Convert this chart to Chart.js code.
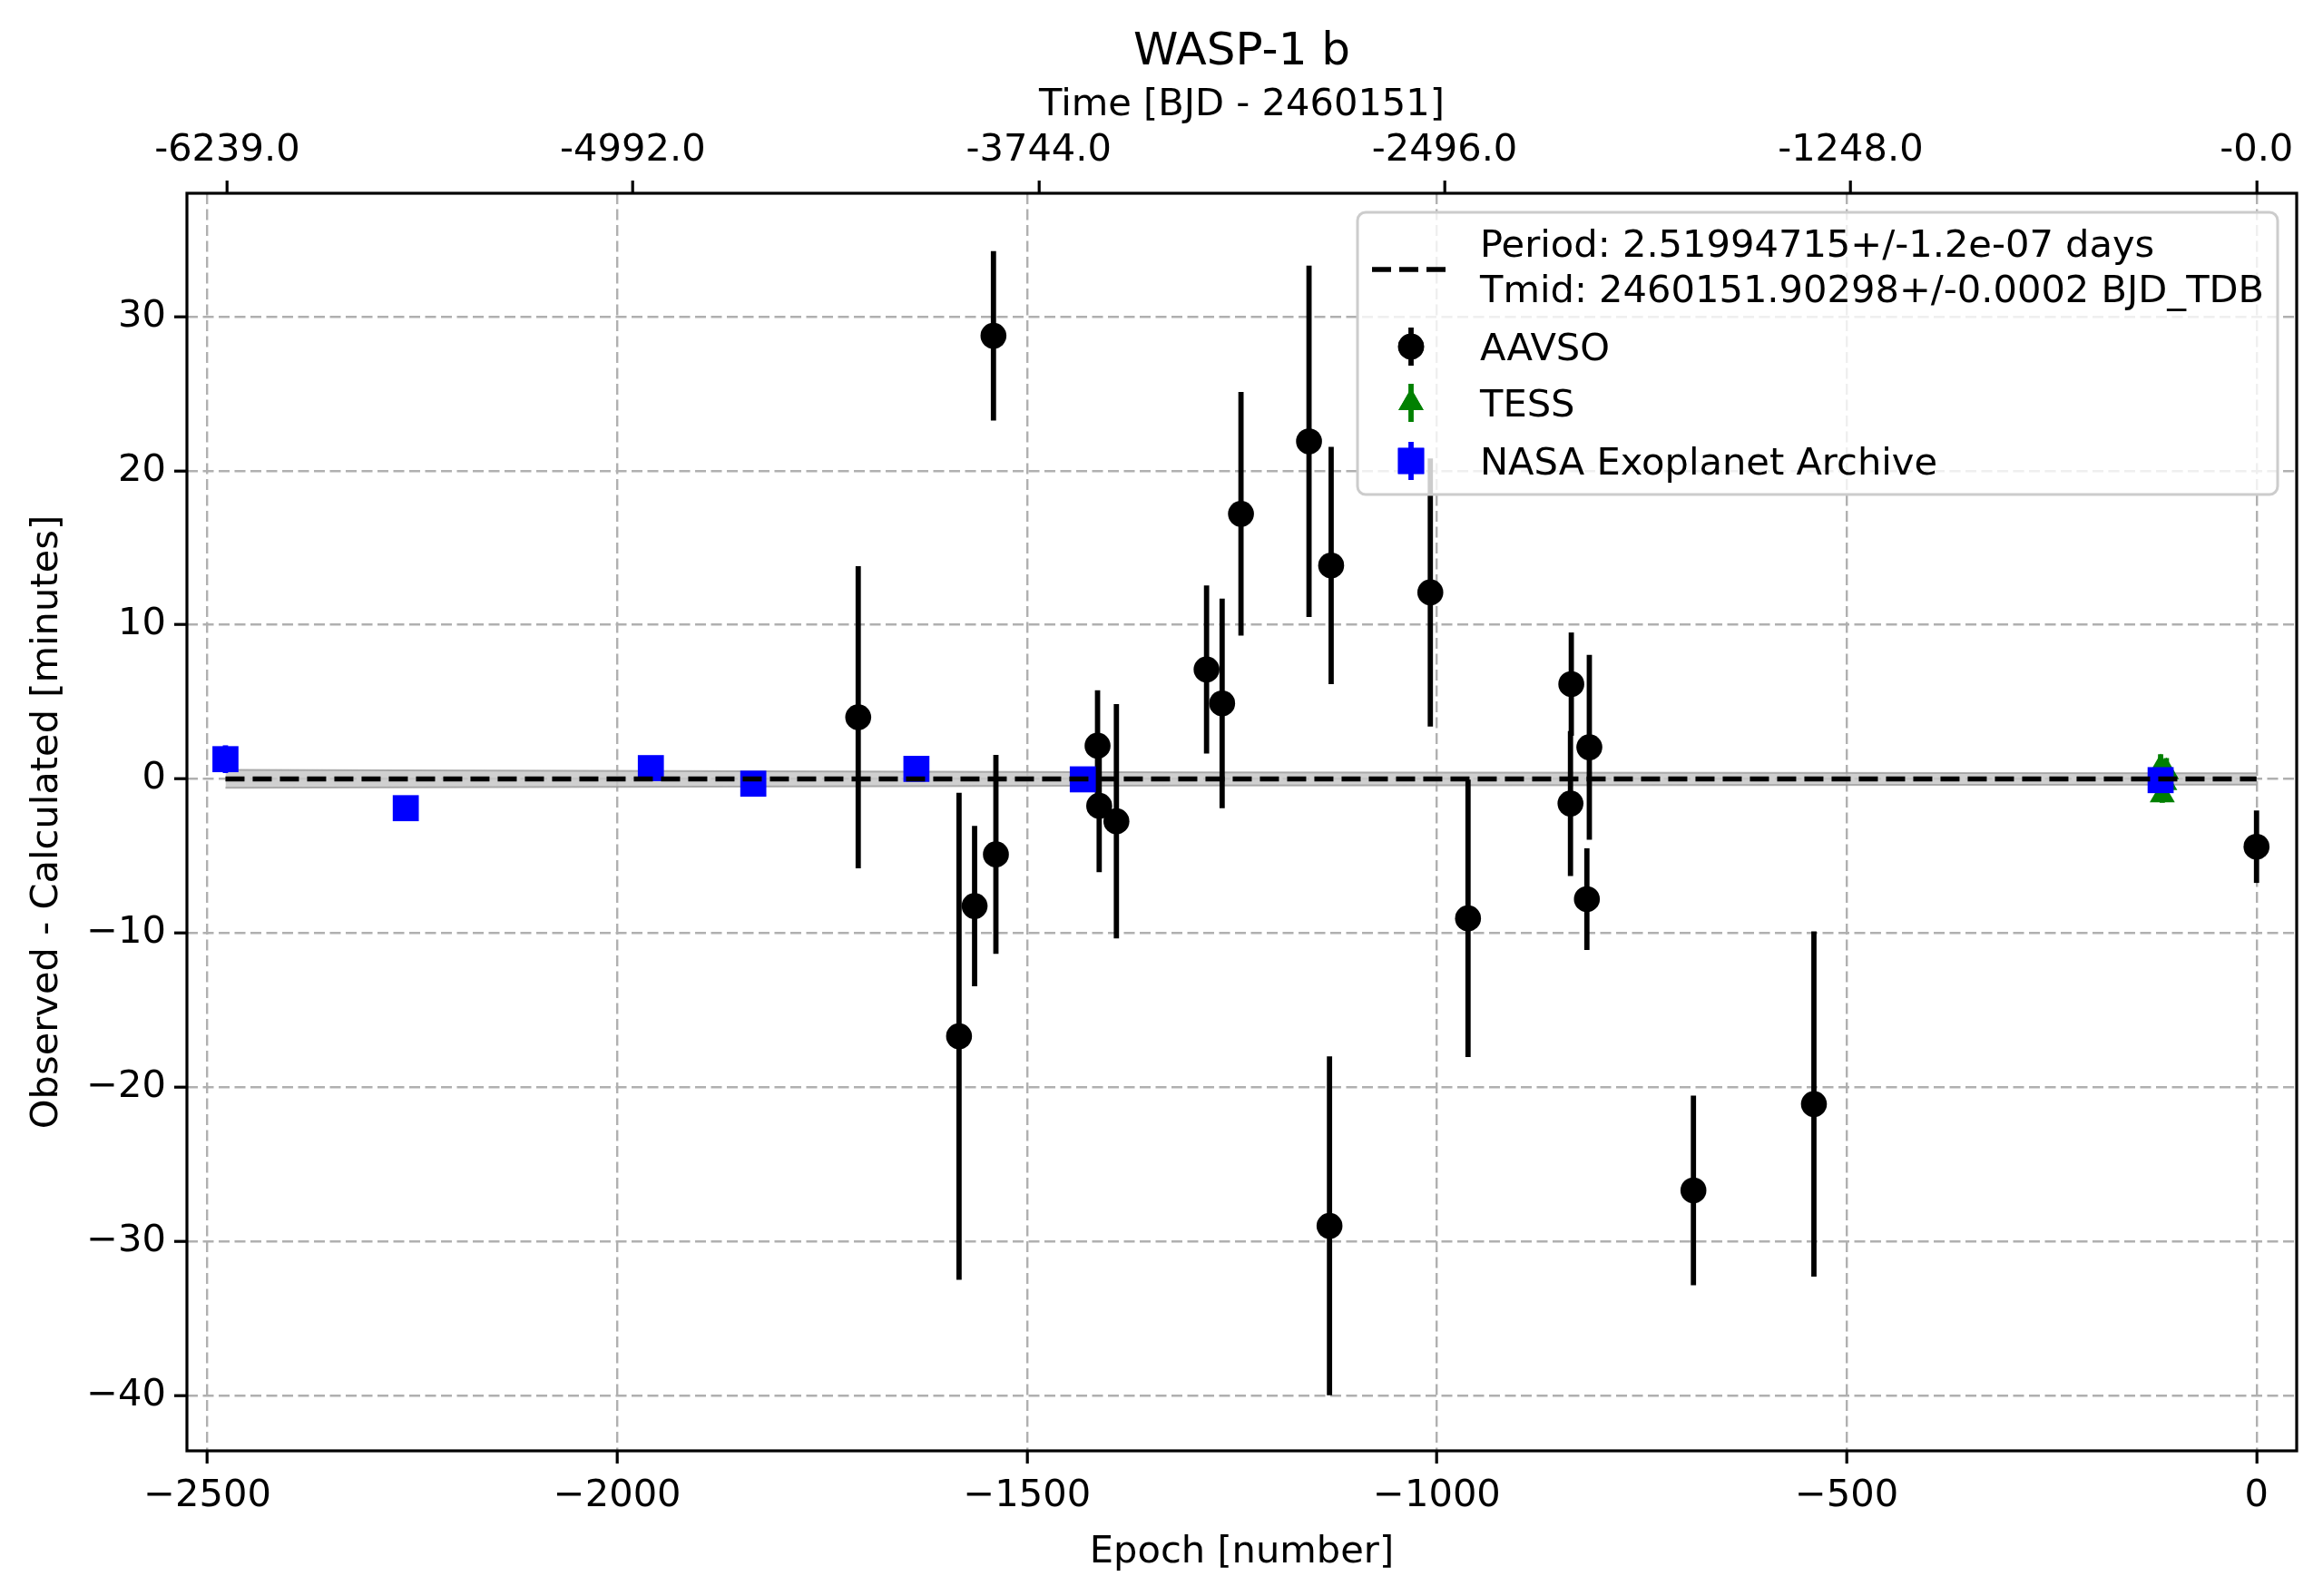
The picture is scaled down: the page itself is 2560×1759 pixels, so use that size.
<!DOCTYPE html>
<html>
<head>
<meta charset="utf-8">
<title>WASP-1 b O-C</title>
<script src="https://cdn.jsdelivr.net/npm/chart.js@4.4.0/dist/chart.umd.min.js"></script>
<style>
  html, body { margin: 0; padding: 0; background: #fff; }
  #oc { display: block; }
</style>
</head>
<body>
<canvas id="oc" width="2560" height="1759" style="width:2560px;height:1759px"></canvas>
<script>
const period = 2.51994715;

// AAVSO transits: epoch, O-C [min], 1-sigma [min]
const aavsoEpoch = [-1706, -1583, -1564, -1541, -1538, -1414, -1412, -1391, -1281, -1262, -1239, -1156,
                    -1131, -1129, -1008, -962, -837, -836, -817, -814, -687, -540, 0];
const aavsoOC = [4.0, -16.7, -8.25, 28.75, -4.9, 2.15, -1.75, -2.75, 7.1, 4.9, 17.2, 21.9,
                 -29.0, 13.85, 12.1, -9.05, -1.6, 6.15, -7.8, 2.05, -26.7, -21.1, -4.4];
const aavsoErr = [9.8, 15.8, 5.2, 5.5, 6.45, 3.6, 4.3, 7.6, 5.45, 6.8, 7.9, 11.4,
                  11.0, 7.7, 8.7, 9.0, 4.7, 3.35, 3.3, 6.0, 6.15, 11.2, 2.35];

// TESS
const tessEpoch = [-117, -115, -112, -110];
const tessOC = [0.7, -1.05, -0.25, 0.45];
const tessErr = [0.9, 0.5, 0.5, 0.9];

// NASA Exoplanet Archive
const nasaEpoch = [-2478, -2258, -1959, -1834, -1635, -1432, -117];
const nasaOC = [1.28, -1.9, 0.7, -0.31, 0.65, -0.03, -0.08];
const nasaErr = [0.9, 0.3, 0.3, 0.3, 0.3, 0.3, 0.3];

// linear ephemeris and its uncertainty band
const fitEpoch = [-2478, 0];
const fitOC = [0, 0];
const bandEpoch = [-2478, -1300, 0];
const bandHalf = [0.58, 0.43, 0.37];

const bottomTicks = [-2500, -2000, -1500, -1000, -500, 0];
const yTicks = [-40, -30, -20, -10, 0, 10, 20, 30];
const topTickLabels = ['-6239.0', '-4992.0', '-3744.0', '-2496.0', '-1248.0', '-0.0'];

const FONT = "'DejaVu Sans', 'Liberation Sans', sans-serif";
const pts = (xs, ys) => xs.map((x, i) => ({x: x, y: ys[i]}));
const minus = v => String(v).replace('-', '\u2212');

// error bars drawn just under each dataset's markers
const errorBars = {
  id: 'errorBars',
  beforeDatasetDraw(chart, args) {
    const ds = chart.data.datasets[args.index];
    if (!ds.errors) return;
    const {ctx, chartArea, scales: {x, y}} = chart;
    ctx.save();
    ctx.beginPath();
    ctx.rect(chartArea.left, chartArea.top, chartArea.width, chartArea.height);
    ctx.clip();
    ctx.strokeStyle = ds.backgroundColor;
    ctx.lineWidth = 5.8;
    ds.data.forEach((p, i) => {
      const px = x.getPixelForValue(p.x);
      ctx.beginPath();
      ctx.moveTo(px, y.getPixelForValue(p.y - ds.errors[i]));
      ctx.lineTo(px, y.getPixelForValue(p.y + ds.errors[i]));
      ctx.stroke();
    });
    ctx.restore();
  }
};

// frame, titles and the legend
const decorations = {
  id: 'decorations',
  afterDraw(chart) {
    const {ctx, chartArea: a} = chart;
    ctx.save();
    ctx.strokeStyle = '#000';
    ctx.lineWidth = 3.2;
    ctx.strokeRect(a.left, a.top, a.right - a.left, a.bottom - a.top);

    const cx = (a.left + a.right) / 2;
    ctx.fillStyle = '#000';
    ctx.textAlign = 'center';
    ctx.textBaseline = 'middle';
    ctx.font = '50px ' + FONT;
    ctx.fillText('WASP-1 b', cx, 58);
    ctx.font = '41.6px ' + FONT;
    ctx.fillText('Time [BJD - 2460151]', cx, 116);
    ctx.fillText('Epoch [number]', cx, 1711);
    ctx.save();
    ctx.translate(52, (a.top + a.bottom) / 2);
    ctx.rotate(-Math.PI / 2);
    ctx.fillText('Observed - Calculated [minutes]', 0, 0);
    ctx.restore();

    // legend box
    const L = 1496, T = 234, R = 2510, B = 545, r = 9;
    ctx.beginPath();
    ctx.moveTo(L + r, T);
    ctx.arcTo(R, T, R, B, r);
    ctx.arcTo(R, B, L, B, r);
    ctx.arcTo(L, B, L, T, r);
    ctx.arcTo(L, T, R, T, r);
    ctx.closePath();
    ctx.fillStyle = 'rgba(255,255,255,0.8)';
    ctx.fill();
    ctx.strokeStyle = '#cccccc';
    ctx.lineWidth = 3;
    ctx.stroke();

    const hx = 1555;
    // fit handle
    ctx.strokeStyle = '#000';
    ctx.lineWidth = 5.5;
    ctx.setLineDash([21, 9]);
    ctx.beginPath();
    ctx.moveTo(1512, 297);
    ctx.lineTo(1596, 297);
    ctx.stroke();
    ctx.setLineDash([]);

    const handles = [
      {y: 382, color: '#000000', style: 'circle', radius: 14.3},
      {y: 444, color: '#008000', style: 'triangle', radius: 16},
      {y: 508, color: '#0000ff', style: 'rect', radius: 20.3}
    ];
    handles.forEach(h => {
      ctx.strokeStyle = h.color;
      ctx.lineWidth = 5.8;
      ctx.beginPath();
      ctx.moveTo(hx, h.y - 21);
      ctx.lineTo(hx, h.y + 21);
      ctx.stroke();
      ctx.fillStyle = h.color;
      Chart.helpers.drawPoint(ctx, {pointStyle: h.style, radius: h.radius, borderWidth: 0, rotation: 0}, hx, h.y);
      ctx.fill();
    });

    ctx.fillStyle = '#000';
    ctx.textAlign = 'left';
    ctx.font = '41.6px ' + FONT;
    ctx.fillText('Period: 2.51994715+/-1.2e-07 days', 1631, 272);
    ctx.fillText('Tmid: 2460151.90298+/-0.0002 BJD_TDB', 1631, 322);
    ctx.fillText('AAVSO', 1631, 386);
    ctx.fillText('TESS', 1631, 448);
    ctx.fillText('NASA Exoplanet Archive', 1631, 512);
    ctx.restore();
  }
};

const gridStyle = {color: '#b0b0b0', lineWidth: 2.4, tickLength: 14, tickColor: '#000', tickWidth: 3.2};
const tickFont = {family: FONT, size: 41.6};

new Chart(document.getElementById('oc'), {
  type: 'scatter',
  data: {
    datasets: [
      {
        label: 'band upper',
        type: 'line',
        data: pts(bandEpoch, bandHalf),
        borderColor: 'rgba(150,150,150,0.75)',
        borderWidth: 2,
        backgroundColor: 'rgba(200,200,200,0.85)',
        fill: '+1',
        pointRadius: 0,
        order: 6
      },
      {
        label: 'band lower',
        type: 'line',
        data: pts(bandEpoch, bandHalf.map(v => -v)),
        borderColor: 'rgba(150,150,150,0.75)',
        borderWidth: 2,
        fill: false,
        pointRadius: 0,
        order: 5
      },
      {
        label: 'AAVSO',
        data: pts(aavsoEpoch, aavsoOC),
        errors: aavsoErr,
        backgroundColor: '#000000',
        borderColor: '#000000',
        pointStyle: 'circle',
        pointRadius: 14.3,
        pointBorderWidth: 0,
        order: 4
      },
      {
        label: 'TESS',
        data: pts(tessEpoch, tessOC),
        errors: tessErr,
        backgroundColor: '#008000',
        borderColor: '#008000',
        pointStyle: 'triangle',
        pointRadius: 16,
        pointBorderWidth: 0,
        order: 3
      },
      {
        label: 'NASA Exoplanet Archive',
        data: pts(nasaEpoch, nasaOC),
        errors: nasaErr,
        backgroundColor: '#0000ff',
        borderColor: '#0000ff',
        pointStyle: 'rect',
        pointRadius: 20.3,
        pointBorderWidth: 0,
        order: 2
      },
      {
        label: 'fit',
        type: 'line',
        data: pts(fitEpoch, fitOC),
        borderColor: '#000',
        borderWidth: 5.5,
        borderDash: [21, 9],
        pointRadius: 0,
        fill: false,
        order: 1
      }
    ]
  },
  options: {
    responsive: false,
    devicePixelRatio: 1,
    animation: false,
    layout: {padding: {left: 0, right: 29, top: 0, bottom: 0}},
    plugins: {
      legend: {display: false},
      title: {display: false},
      tooltip: {enabled: false}
    },
    scales: {
      x: {
        type: 'linear',
        position: 'bottom',
        min: -2525,
        max: 49,
        afterBuildTicks: s => { s.ticks = bottomTicks.map(v => ({value: v})); },
        afterFit: s => { s.height = 160; },
        grid: gridStyle,
        border: {display: false, dash: [12, 5.5]},
        ticks: {font: tickFont, color: '#000', padding: 11, maxRotation: 0, autoSkip: false,
                callback: v => minus(v)}
      },
      x2: {
        type: 'linear',
        position: 'top',
        min: -2525,
        max: 49,
        afterBuildTicks: s => { s.ticks = topTickLabels.map(t => ({value: parseFloat(t) / period})); },
        afterFit: s => { s.height = 213; },
        grid: Object.assign({}, gridStyle, {drawOnChartArea: false}),
        border: {display: false},
        ticks: {font: tickFont, color: '#000', padding: 8, maxRotation: 0, autoSkip: false,
                callback: (v, i) => topTickLabels[i]}
      },
      y: {
        type: 'linear',
        position: 'left',
        min: -43.6,
        max: 38.0,
        afterBuildTicks: s => { s.ticks = yTicks.map(v => ({value: v})); },
        afterFit: s => { s.width = 206; },
        grid: gridStyle,
        border: {display: false, dash: [12, 5.5]},
        ticks: {font: tickFont, color: '#000', padding: 9, autoSkip: false,
                callback: v => minus(v)}
      }
    }
  },
  plugins: [errorBars, decorations]
});
</script>
</body>
</html>
